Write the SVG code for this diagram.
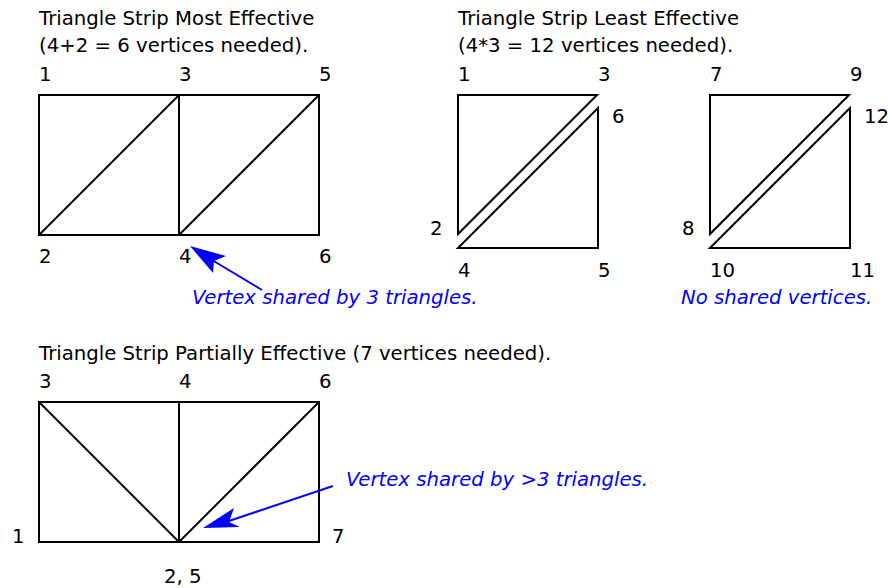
<svg xmlns="http://www.w3.org/2000/svg" width="888" height="588" viewBox="0 0 888 588">
<style>
text{font-family:"DejaVu Sans",sans-serif;font-size:19.7px;fill:#000}
.note{fill:#0000ff;font-style:italic}
.shape{fill:none;stroke:#000;stroke-width:2;stroke-linejoin:miter}
.arrow{stroke:#0000ff;stroke-width:2;fill:none}
.head{fill:#0000ff;stroke:none}
</style>
<rect width="888" height="588" fill="#fff"/>
<g id="title1"><text x="39" y="25">Triangle Strip Most Effective</text><text x="39" y="52">(4+2 = 6 vertices needed).</text></g>
<g id="title2"><text x="458" y="25">Triangle Strip Least Effective</text><text x="458" y="52">(4*3 = 12 vertices needed).</text></g>
<g id="title3"><text x="39" y="360">Triangle Strip Partially Effective (7 vertices needed).</text></g>
<g id="strip1">
<rect class="shape" x="39" y="95" width="280" height="140"/>
<line class="shape" x1="179" y1="95" x2="179" y2="235"/>
<line class="shape" x1="39" y1="235" x2="179" y2="95"/>
<line class="shape" x1="179" y1="235" x2="319" y2="95"/>
<text x="39" y="81">1</text><text x="179" y="81">3</text><text x="319" y="81">5</text>
<text x="39" y="263">2</text><text x="179" y="263">4</text><text x="319" y="263">6</text>
</g>
<g id="strip2a">
<polygon class="shape" points="458,95 597,95 458,234"/>
<polygon class="shape" points="598,108 458,248 598,248"/>
<text x="458" y="81">1</text><text x="598" y="81">3</text><text x="612" y="123">6</text>
<text x="430" y="235">2</text><text x="458" y="277">4</text><text x="598" y="277">5</text>
</g>
<g id="strip2b">
<polygon class="shape" points="710,95 849,95 710,234"/>
<polygon class="shape" points="850,108 710,248 850,248"/>
<text x="710" y="81">7</text><text x="850" y="81">9</text><text x="864" y="123">12</text>
<text x="682" y="235">8</text><text x="710" y="277">10</text><text x="850" y="277">11</text>
</g>
<g id="strip3">
<rect class="shape" x="39" y="402" width="280" height="140"/>
<line class="shape" x1="179" y1="402" x2="179" y2="542"/>
<line class="shape" x1="39" y1="402" x2="179" y2="542"/>
<line class="shape" x1="319" y1="402" x2="179" y2="542"/>
<text x="39" y="388">3</text><text x="179" y="388">4</text><text x="319" y="388">6</text>
<text x="12" y="543">1</text><text x="332" y="543">7</text><text x="164" y="583">2, 5</text>
</g>
<g id="note1"><text class="note" x="192" y="304">Vertex shared by 3 triangles.</text></g>
<g id="note2"><text class="note" x="681" y="304">No shared vertices.</text></g>
<g id="note3"><text class="note" x="346" y="486">Vertex shared by &gt;3 triangles.</text></g>
<g id="connectors">
<line class="arrow" x1="262" y1="290" x2="212" y2="260"/>
<path class="head" d="M190,246 L226,256 L214,261 L213,273 Z"/>
<line class="arrow" x1="333" y1="486" x2="226" y2="522"/>
<path class="head" d="M203,528 L234,508 L229,522 L240,527 Z"/>
</g>
</svg>
